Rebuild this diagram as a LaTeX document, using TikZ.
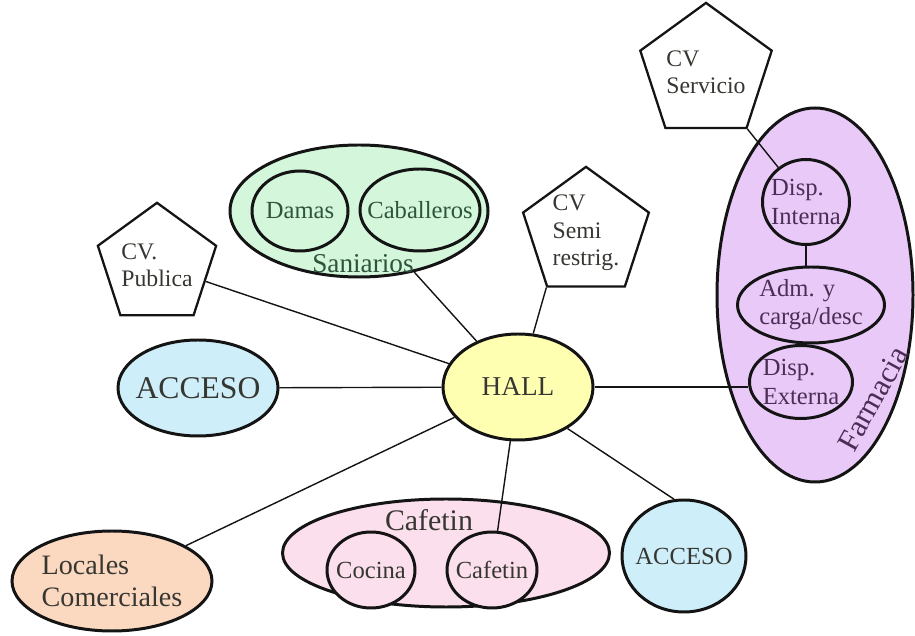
\documentclass[tikz,border=0pt]{standalone}
\usepackage{fontspec}
\setmainfont{Liberation Serif}
\usetikzlibrary{shapes.geometric}
\definecolor{figline}{RGB}{20,20,20}
\definecolor{figtext}{RGB}{55,55,50}
\definecolor{hallfill}{RGB}{255,255,178}
\definecolor{accfill}{RGB}{206,238,250}
\definecolor{locfill}{RGB}{251,216,192}
\definecolor{cafefill}{RGB}{251,223,236}
\definecolor{sanifill}{RGB}{212,246,218}
\definecolor{sanitext}{RGB}{45,85,60}
\definecolor{farmfill}{RGB}{233,201,248}
\definecolor{farmtext}{RGB}{75,45,85}
\tikzset{
  zona/.style ={ellipse, draw=figline, line width=1.7pt, inner xsep=-8pt, inner ysep=-4pt, text=figtext},
  cv/.style   ={regular polygon, regular polygon sides=5, draw=figline, line width=1.3pt, fill=white,
                minimum size=2.45cm, inner sep=0pt, align=left, text=figtext, font=\fontsize{13.5}{15.6}\selectfont},
  con/.style  ={draw=figline, line width=0.8pt},
  lab/.style  ={font=\fontsize{14}{16}\selectfont, align=left},
  labg/.style ={font=\fontsize{15.5}{18}\selectfont, inner sep=0pt},
}

\begin{document}
\begin{tikzpicture}
  \useasboundingbox (0,0) rectangle (18.3,12.7);
  \node[zona, fill=sanifill, minimum width=5.16cm, minimum height=2.64cm] (sani) at (7.18,8.48) {};
  \node[labg, text=sanitext] (saniLab) at (7.26,7.42) {Saniarios};
  \node[zona, lab, fill=sanifill, text=sanitext, minimum width=1.92cm, minimum height=1.6cm] (damas) at (6.0,8.48) {Damas};
  \node[zona, lab, fill=sanifill, text=sanitext, minimum width=2.4cm, minimum height=1.64cm] (caba) at (8.4,8.5) {Caballeros};

  \node[zona, fill=cafefill, minimum width=6.54cm, minimum height=2.16cm] (cafe) at (8.92,1.64) {};
  \node[labg, font=\fontsize{17}{19}\selectfont, text=figtext] (cafeLab) at (8.58,2.30) {Cafetin};
  \node[zona, lab, fill=cafefill, minimum width=1.76cm, minimum height=1.52cm] (cocina) at (7.42,1.30) {Cocina};
  \node[zona, lab, fill=cafefill, minimum width=1.8cm, minimum height=1.52cm] (cafeI) at (9.84,1.30) {Cafetin};

  \node[zona, fill=farmfill, minimum width=3.92cm, minimum height=7.48cm] (farm) at (16.3,6.8) {};
  \node[labg, font=\fontsize{17.5}{20}\selectfont, text=farmtext, rotate=61] (farmLab) at (17.46,4.72) {Farmacia};
  \node[zona, lab, fill=farmfill, text=farmtext, minimum width=1.74cm, minimum height=1.7cm] (dispI) at (16.12,8.66) {Disp.\\Interna};
  \node[zona, lab, fill=farmfill, text=farmtext, minimum width=2.94cm, minimum height=1.52cm] (adm) at (16.22,6.60) {Adm. y\\carga/desc};
  \node[zona, lab, fill=farmfill, text=farmtext, minimum width=2.06cm, minimum height=1.46cm] (dispE) at (16.02,5.06) {Disp.\\Externa};

  \node[zona, fill=hallfill, font=\fontsize{15.5}{18}\selectfont, minimum width=3.0cm, minimum height=2.12cm] (hall) at (10.36,4.96) {HALL};
  \node[zona, fill=accfill, font=\fontsize{18}{20}\selectfont, minimum width=3.2cm, minimum height=1.92cm] (accI) at (3.96,4.94) {ACCESO};
  \node[zona, fill=accfill, font=\fontsize{14}{16}\selectfont, minimum width=2.48cm, minimum height=2.24cm] (accD) at (13.68,1.58) {ACCESO};
  \node[zona, lab, fill=locfill, font=\fontsize{16}{18.5}\selectfont, minimum width=4.0cm, minimum height=2.0cm] (locales) at (2.24,1.08) {Locales\\Comerciales};

  \node[cv] (cvPub) at (3.14,7.40) {CV.\\Publica};
  \node[cv] (cvSemi) at (11.72,8.04) {CV\\Semi\\restrig.};
  \node[cv] (cvServ) at (14.12,11.26) {CV\\Servicio};

  \draw[con] (hall) -- (accI);
  \draw[con] (hall) -- (cvPub);
  \draw[con] (hall) -- (sani);
  \draw[con] (hall) -- (cvSemi.corner 3);
  \draw[con] (hall.east) -- (dispE.west |- hall.east);
  \draw[con] (hall.-40) -- (accD.100);
  \draw[con] (hall) -- (cafeI);
  \draw[con] (hall) -- (locales);
  \draw[con] (cvServ.corner 4) -- (dispI);
  \draw[con] (dispI.south) -- (dispI.south |- adm.north);
  \draw[con] (adm) -- (dispE);
\end{tikzpicture}
\end{document}
